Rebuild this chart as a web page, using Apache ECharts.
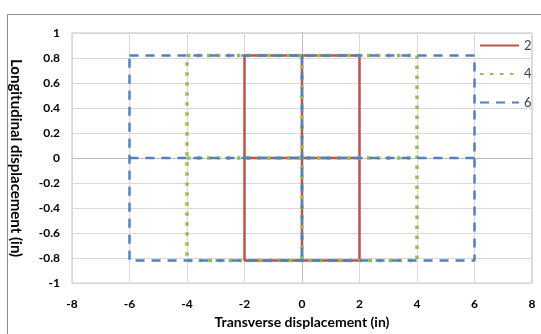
<!DOCTYPE html>
<html><head><meta charset="utf-8">
<script src="https://cdn.jsdelivr.net/npm/echarts@6/dist/echarts.min.js"></script>
<style>html,body{margin:0;padding:0;background:#fff}#c{width:541px;height:334px}</style>
</head><body><div id="c"></div>
<script>
// Series names
const seriesNames = ['2', '4', '6'];
// Path coordinates (null = break in the line)
const s2x = [-2, 2, 2, -2, -2, null, -2, 2, null, 0, 0];
const s2y = [0.82, 0.82, -0.82, -0.82, 0.82, null, 0, 0, null, 0.82, -0.82];
const s4x = [-4, 4, 4, -4, -4, null, -4, 4, null, 0, 0];
const s4y = [0.82, 0.82, -0.82, -0.82, 0.82, null, 0, 0, null, 0.82, -0.82];
const s6x = [-6, 6, 6, -6, -6, null, -6, 6, null, 0, 0];
const s6y = [0.82, 0.82, -0.82, -0.82, 0.82, null, 0, 0, null, 0.82, -0.82];
// Axis ticks
const xTicks = [-8, -6, -4, -2, 0, 2, 4, 6, 8];
const yTicks = [-1, -0.8, -0.6, -0.4, -0.2, 0, 0.2, 0.4, 0.6, 0.8, 1];

function pts(xs, ys) {
  return xs.map((x, i) => (x === null ? '-' : [x, ys[i]]));
}
const FONT = 'Lato';
const chart = echarts.init(document.getElementById('c'));
chart.setOption({
  animation: false,
  graphic: [{
    type: 'rect', shape: { x: 7.5, y: 14.5, width: 600, height: 400 },
    style: { fill: 'none', stroke: '#8c8c8c', lineWidth: 1 }, silent: true, z: -10
  }],
  grid: { left: 72, right: 9, top: 33, bottom: 44, show: true, borderColor: '#bfbfbf', borderWidth: 1 },
  xAxis: {
    type: 'value', min: xTicks[0], max: xTicks[xTicks.length - 1], interval: 2,
    name: 'Transverse displacement (in)', nameLocation: 'middle', nameGap: 25,
    nameTextStyle: { fontFamily: FONT, fontWeight: 'bold', fontSize: 14, color: '#000' },
    axisLine: { show: true, lineStyle: { color: '#bfbfbf' } },
    axisTick: { show: false },
    axisLabel: { fontFamily: FONT, fontWeight: 'bold', fontSize: 12, color: '#000', margin: 15 },
    splitLine: { show: true, lineStyle: { color: '#d9d9d9', width: 1 } }
  },
  yAxis: {
    type: 'value', min: yTicks[0], max: yTicks[yTicks.length - 1], interval: 0.2,
    name: 'Longitudinal displacement (in)', nameLocation: 'middle', nameGap: 49, nameRotate: -90,
    nameTextStyle: { fontFamily: FONT, fontWeight: 'bold', fontSize: 15, color: '#000' },
    axisLine: { show: true, lineStyle: { color: '#bfbfbf' } },
    axisTick: { show: false },
    axisLabel: { fontFamily: FONT, fontWeight: 'bold', fontSize: 12, color: '#000', margin: 12,
      formatter: v => String(Math.round(v * 10) / 10) },
    splitLine: { show: true, lineStyle: { color: '#d9d9d9', width: 1 } }
  },
  legend: {
    orient: 'vertical', left: 479, top: 39, padding: 0, itemWidth: 39, itemHeight: 12, itemGap: 15.5,
    itemStyle: { opacity: 0 },
    textStyle: { fontFamily: FONT, fontSize: 13, color: '#404040' },
    data: seriesNames
  },
  series: [
    { name: seriesNames[0], type: 'line', data: pts(s2x, s2y), showSymbol: false, symbol: 'none',
      connectNulls: false, lineStyle: { color: '#C0504D', width: 2.5 }, itemStyle: { color: '#C0504D' } },
    { name: seriesNames[1], type: 'line', data: pts(s4x, s4y), showSymbol: false, symbol: 'none',
      connectNulls: false, lineStyle: { color: '#9BBB59', width: 3.5, type: [3.5, 6.5] }, itemStyle: { color: '#9BBB59' } },
    { name: seriesNames[2], type: 'line', data: pts(s6x, s6y), showSymbol: false, symbol: 'none',
      connectNulls: false, lineStyle: { color: '#4F81BD', width: 2.5, type: [9, 7] }, itemStyle: { color: '#4F81BD' } }
  ]
});
</script></body></html>
